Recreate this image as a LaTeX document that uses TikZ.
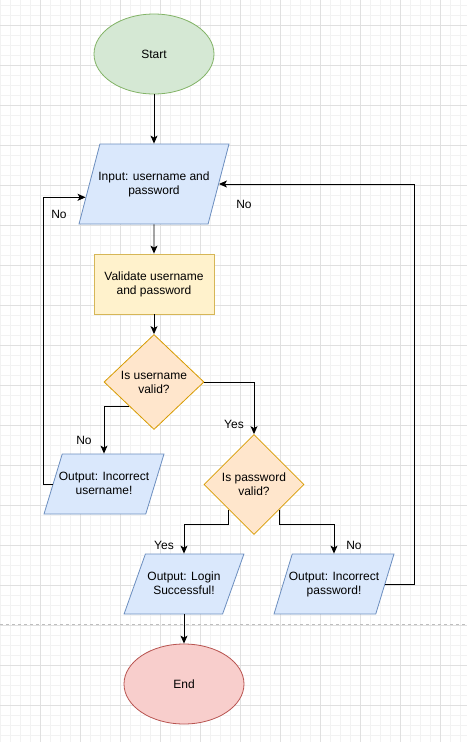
\documentclass[tikz,border=0pt]{standalone}
\usepackage{fontspec}
\setmainfont{Liberation Sans}
\usetikzlibrary{shapes.geometric,arrows.meta}
\definecolor{cgreenf}{HTML}{D5E8D4}\definecolor{cgreend}{HTML}{82B366}
\definecolor{cbluef}{HTML}{DAE8FC}\definecolor{cblued}{HTML}{6C8EBF}
\definecolor{cyellf}{HTML}{FFF2CC}\definecolor{cyelld}{HTML}{D6B656}
\definecolor{corangef}{HTML}{FFE6CC}\definecolor{coranged}{HTML}{D79B00}
\definecolor{credf}{HTML}{F8CECC}\definecolor{credd}{HTML}{B85450}
\definecolor{gminor}{HTML}{F2F2F2}\definecolor{gmajor}{HTML}{E0E0E0}
\tikzset{loginflow/.style={x=1pt,y=-1pt,font=\fontsize{12}{14}\selectfont}}
\tikzset{box/.style={draw,line width=0.8pt,align=center,inner sep=0pt,text=black},
         term/.style={box,ellipse,minimum width=120pt,minimum height=80pt},
         io/.style={box,trapezium,trapezium left angle=73.3,trapezium right angle=106.7,
                    trapezium stretches=true,inner xsep=-4pt,inner ysep=0pt,
                    text height=40pt,text depth=20pt,minimum width=120pt,
                    draw=cblued,fill=cbluef},
         proc/.style={box,rectangle,minimum width=120pt,minimum height=60pt,draw=cyelld,fill=cyellf},
         decide/.style={box,diamond,minimum width=100pt,minimum height=100pt,draw=coranged,fill=corangef},
         conn/.style={line width=0.9pt,-{Stealth[length=8pt,width=7pt,inset=2pt]}},
         lbl/.style={inner sep=0pt}}

\begin{document}
\begin{tikzpicture}[loginflow]
    \useasboundingbox (0,0) rectangle (467,742);
    \fill[white] (0,0) rectangle (467,742);
    % background grid
    \foreach \x in {0,10,...,460} \draw[gminor,line width=0.6pt] (\x,0) -- (\x,742);
    \foreach \y in {5,15,...,735} \draw[gminor,line width=0.6pt] (0,\y) -- (467,\y);
    \foreach \x in {40,80,...,440} \draw[gmajor,line width=0.6pt] (\x,0) -- (\x,742);
    \foreach \y in {25,65,...,705} \draw[gmajor,line width=0.6pt] (0,\y) -- (467,\y);
    \draw[black!25,line width=0.7pt,dash pattern=on 3pt off 3pt] (0,624) -- (467,624); % page break

    \node[term,draw=cgreend,fill=cgreenf] (start) at (154,54) {Start};
    \node[io,trapezium left angle=76,trapezium right angle=104,text height=50pt,text depth=30pt,
          minimum width=150pt] (input) at (154,184) {Input: username and\\password};
    \node[proc] (validate) at (154,284) {Validate username\\and password};
    \node[decide,minimum height=95pt] (userok) at (154,382) {Is username\\valid?};
    \node[io] (baduser) at (104,484) {Output: Incorrect\\username!};
    \node[decide] (passok) at (254,484.5) {Is password\\valid?};
    \node[io] (success) at (184,584) {Output: Login\\Successful!};
    \node[io] (badpass) at (334,584) {Output: Incorrect\\password!};
    \node[term,draw=credd,fill=credf] (finish) at (184,684) {End};

    \draw[conn] (start) -- (input);
    \draw[conn] (input) -- (validate);
    \draw[conn] (validate) -- (userok);
    \draw[conn] (userok.south west) -| (baduser.center |- baduser.north);
    \draw[conn] (userok.east) -| (passok.north);
    \draw[conn] (passok.south west) -- ++(0,15) -| (success.center |- success.north);
    \draw[conn] (passok.south east) -- ++(0,15) -| (badpass.center |- badpass.north);
    \draw[conn] (baduser.180) -- ++(-9,0) |- (input.191);
    \draw[conn] (badpass.0) -- ++(29,0) |- (input.0);
    \draw[conn] (success.center |- success.south) -- (finish);

    \node[lbl] (nouser) at (84,440) {No};
    \node[lbl] (yesuser) at (234,424) {Yes};
    \node[lbl] (noloop) at (59,214) {No};
    \node[lbl] (yespass) at (164,545) {Yes};
    \node[lbl] (nopass) at (354,545) {No};
    \node[lbl] (noretry) at (244,204) {No};
\end{tikzpicture}
\end{document}
